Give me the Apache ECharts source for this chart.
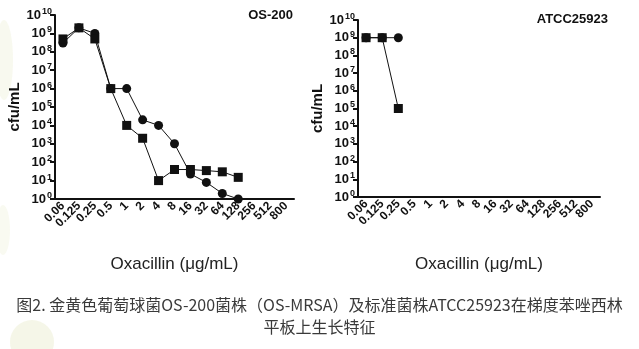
<!DOCTYPE html>
<html>
<head>
<meta charset="utf-8">
<script src="https://cdn.jsdelivr.net/npm/echarts@6/dist/echarts.min.js"></script>
<style>
html,body{margin:0;padding:0;background:#fff;}
#c{width:639px;height:349px;}
</style>
</head>
<body>
<div id="c"></div>
<script>
const categories = ['0.06','0.125','0.25','0.5','1','2','4','8','16','32','64','128','256','512','800'];
const os200Circle = [3e8, 2e9, 1e9, 1e6, 1e6, 2e4, 1e4, 1e3, 23, 8, 2, 1, null, null, null];
const os200Square = [5e8, 2e9, 5e8, 1e6, 1e4, 2e3, 10, 40, 40, 35, 30, 15, null, null, null];
const atccCircle = [1e9, 1e9, 1e9, null, null, null, null, null, null, null, null, null, null, null, null];
const atccSquare = [1e9, 1e9, 1e5, null, null, null, null, null, null, null, null, null, null, null, null];
const panelTitles = ['OS-200', 'ATCC25923'];
const yName = 'cfu/mL';
const xName = 'Oxacillin (μg/mL)';
const caption1 = '图2. 金黄色葡萄球菌OS-200菌株（OS-MRSA）及标准菌株ATCC25923在梯度苯唑西林';
const caption2 = '平板上生长特征';

const chart = echarts.init(document.getElementById('c'), null, {renderer: 'canvas'});
const ink = '#111';
const fontFam = 'Arial, "Liberation Sans", Helvetica, sans-serif';

function xAxis(gi, gap) {
  return {
    type: 'category', gridIndex: gi, data: categories, boundaryGap: true,
    name: xName, nameLocation: 'middle', nameGap: gap,
    nameTextStyle: {fontSize: 17, color: '#222', fontFamily: fontFam},
    axisLine: {lineStyle: {color: ink, width: 2}},
    axisTick: {alignWithLabel: true, length: 6, lineStyle: {color: ink, width: 2}},
    axisLabel: {rotate: 45, fontSize: 12, fontWeight: 'bold', color: ink, fontFamily: fontFam, margin: 5, interval: 0},
    splitLine: {show: false}
  };
}
function yAxis(gi, gap) {
  return {
    type: 'log', logBase: 10, gridIndex: gi, min: 1, max: 1e10, interval: 1, splitNumber: 10,
    name: yName, nameLocation: 'middle', nameGap: gap,
    nameTextStyle: {fontSize: 15, fontWeight: 'bold', color: ink, fontFamily: fontFam},
    axisLine: {show: true, lineStyle: {color: ink, width: 2}},
    axisTick: {show: true, length: 5, lineStyle: {color: ink, width: 2}},
    splitLine: {show: false},
    axisLabel: {
      margin: 3, color: ink, showMinLabel: true, showMaxLabel: true,
      formatter: function (v) {
        const e = Math.round(Math.log10(v));
        return '{b|10}{s|' + e + '}';
      },
      rich: {
        b: {fontSize: 13, fontWeight: 'bold', color: ink, fontFamily: fontFam},
        s: {fontSize: 9, fontWeight: 'bold', color: ink, fontFamily: fontFam, padding: [0, 0, 7, 1]}
      }
    }
  };
}
function line(name, data, xi, sym, size, z) {
  return {
    name: name, type: 'line', xAxisIndex: xi, yAxisIndex: xi, data: data,
    symbol: sym, symbolSize: size, showSymbol: true, connectNulls: false,
    lineStyle: {color: ink, width: 1}, itemStyle: {color: ink}, z: z, animation: false
  };
}

chart.setOption({
  backgroundColor: '#fff',
  animation: false,
  graphic: [
    {type: 'ellipse', shape: {cx: 4, cy: 60, rx: 9, ry: 40}, style: {fill: 'rgba(235,238,210,0.35)'}, z: -10},
    {type: 'ellipse', shape: {cx: 3, cy: 230, rx: 7, ry: 25}, style: {fill: 'rgba(235,238,210,0.3)'}, z: -10},
    {type: 'circle', shape: {cx: 32, cy: 342, r: 22}, style: {fill: 'rgba(232,236,205,0.45)'}, z: -10},
    {type: 'text', left: 'center', top: 297, style: {text: caption1, fontSize: 16, fill: '#3a3a3a', fontFamily: '"Noto Sans CJK SC", sans-serif'}},
    {type: 'text', left: 'center', top: 319, style: {text: caption2, fontSize: 16, fill: '#3a3a3a', fontFamily: '"Noto Sans CJK SC", sans-serif'}}
  ],
  title: [
    {text: panelTitles[0], right: 639 - 293, top: 9, padding: 0, textStyle: {fontSize: 13, fontWeight: 'bold', color: ink, fontFamily: fontFam}},
    {text: panelTitles[1], right: 639 - 608, top: 13, padding: 0, textStyle: {fontSize: 13, fontWeight: 'bold', color: ink, fontFamily: fontFam}}
  ],
  grid: [
    {left: 55, top: 15, width: 239, height: 184, containLabel: false},
    {left: 358, top: 20, width: 242, height: 177, containLabel: false}
  ],
  xAxis: [xAxis(0, 57), xAxis(1, 59)],
  yAxis: [yAxis(0, 29), yAxis(1, 28)],
  series: [
    line('OS-200 circle', os200Circle, 0, 'circle', 9, 2),
    line('OS-200 square', os200Square, 0, 'rect', 9, 3),
    line('ATCC circle', atccCircle, 1, 'circle', 9, 2),
    line('ATCC square', atccSquare, 1, 'rect', 9, 3)
  ]
});
</script>
</body>
</html>
